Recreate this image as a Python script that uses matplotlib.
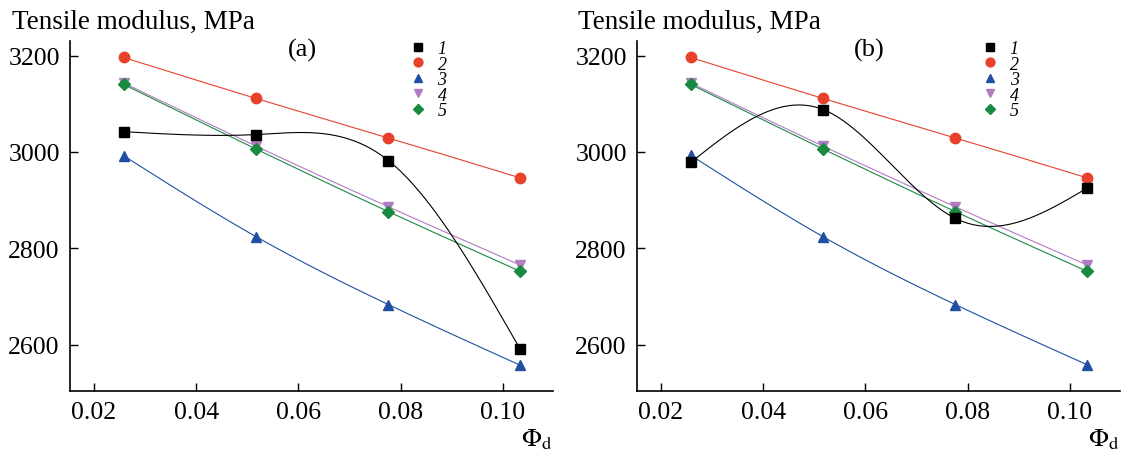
import numpy as np
import matplotlib
matplotlib.use("Agg")
import matplotlib.pyplot as plt
from matplotlib.lines import Line2D

plt.rcParams['font.family'] = ['Liberation Serif', 'DejaVu Serif']
plt.rcParams['mathtext.fontset'] = 'stix'

phi = [0.0258, 0.0517, 0.0776, 0.1034]
series_labels = ['1', '2', '3', '4', '5']
a_vals = {
    '1': [3042, 3036, 2982, 2590],
    '2': [3196, 3111, 3029, 2946],
    '3': [2992, 2824, 2683, 2557],
    '4': [3143, 3012, 2886, 2765],
    '5': [3140, 3006, 2876, 2752],
}
b_vals = {
    '1': [2978, 3088, 2862, 2925],
    '2': [3196, 3111, 3029, 2946],
    '3': [2993, 2824, 2683, 2558],
    '4': [3143, 3012, 2886, 2765],
    '5': [3140, 3006, 2876, 2752],
}
panel_tags = ['(a)', '(b)']
x_ticks = [0.02, 0.04, 0.06, 0.08, 0.10]
x_ticklabels = ['0.02', '0.04', '0.06', '0.08', '0.10']
y_ticks = [2600, 2800, 3000, 3200]

colors = {'1': '#000000', '2': '#e8422c', '3': '#1f4ea3', '4': '#b27cc2', '5': '#1a8a43'}
markers = {'1': 's', '2': 'o', '3': '^', '4': 'v', '5': 'D'}
msizes = {'1': 6.5, '2': 7.5, '3': 7.5, '4': 7.5, '5': 6.5}


def natural_spline(x, y, n=200):
    x = np.asarray(x, float); y = np.asarray(y, float)
    k = len(x)
    h = np.diff(x)
    A = np.zeros((k, k)); r = np.zeros(k)
    A[0, 0] = 1; A[-1, -1] = 1
    for i in range(1, k - 1):
        A[i, i - 1] = h[i - 1]
        A[i, i] = 2 * (h[i - 1] + h[i])
        A[i, i + 1] = h[i]
        r[i] = 6 * ((y[i + 1] - y[i]) / h[i] - (y[i] - y[i - 1]) / h[i - 1])
    M = np.linalg.solve(A, r)
    xs = np.linspace(x[0], x[-1], n)
    ys = np.empty_like(xs)
    for j, xv in enumerate(xs):
        i = min(np.searchsorted(x, xv) - 1, k - 2)
        i = max(i, 0)
        t1 = x[i + 1] - xv; t0 = xv - x[i]
        ys[j] = (M[i] * t1 ** 3 + M[i + 1] * t0 ** 3) / (6 * h[i]) \
            + (y[i] / h[i] - M[i] * h[i] / 6) * t1 \
            + (y[i + 1] / h[i] - M[i + 1] * h[i] / 6) * t0
    return xs, ys


fig = plt.figure(figsize=(11.21, 4.56), dpi=100)
ax_pos = [[0.062, 0.1397, 0.4313, 0.769], [0.5678, 0.1397, 0.4313, 0.769]]
leg_x = [0.679, 0.69]
ylab_x = [0.0107, 0.5156]

for p, vals in enumerate([a_vals, b_vals]):
    ax = fig.add_axes(ax_pos[p])
    order = ['3', '4', '5', '2', '1']
    for s in order:
        xs, ys = natural_spline(phi, vals[s])
        ax.plot(xs, ys, color=colors[s], lw=0.8, zorder=2)
    for s in order:
        ax.plot(phi, vals[s], ls='none', marker=markers[s], ms=msizes[s],
                color=colors[s], mec=colors[s], zorder=3)
    ax.set_xlim(0.0152, 0.1098)
    ax.set_ylim(2503, 3231)
    ax.set_xticks(x_ticks)
    ax.set_xticklabels(x_ticklabels)
    ax.set_yticks(y_ticks)
    ax.spines['top'].set_visible(False)
    ax.spines['right'].set_visible(False)
    ax.spines['left'].set_linewidth(1.2)
    ax.spines['bottom'].set_linewidth(1.2)
    ax.tick_params(axis='x', direction='in', length=5.5, width=1, labelsize=18.5, pad=7)
    ax.tick_params(axis='y', direction='in', length=5.5, width=1, labelsize=18.5, pad=7)
    ax.text(0.481, 0.976, panel_tags[p], transform=ax.transAxes, fontsize=19,
            ha='center', va='center')
    fig.text(ylab_x[p], 1 - 22 / 456, 'Tensile modulus, MPa',
             fontsize=19.5, ha='left', va='center')
    ax.text(1.0, -0.136, r'$\Phi_\mathrm{d}$', transform=ax.transAxes,
            fontsize=19, ha='right', va='center')
    handles = [Line2D([], [], ls='none', marker=markers[s], ms=msizes[s] * 0.85,
                      color=colors[s]) for s in series_labels]
    leg = ax.legend(handles, series_labels, loc='upper left',
                    bbox_to_anchor=(leg_x[p], 1.038), frameon=False,
                    prop={'style': 'italic', 'size': 13, 'family': 'Liberation Serif'},
                    labelspacing=-0.08, handlelength=0.8, handletextpad=0.7,
                    borderpad=0.2)

fig.savefig('out.png', dpi=100)
